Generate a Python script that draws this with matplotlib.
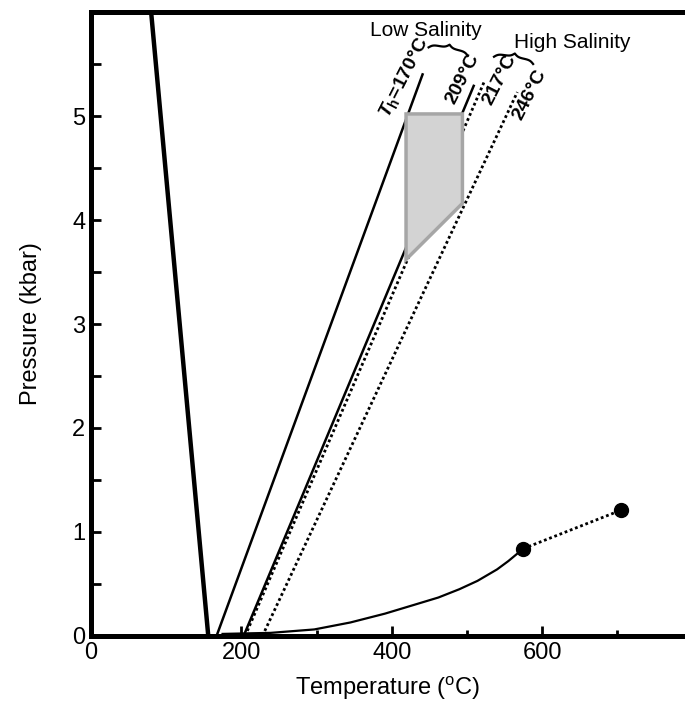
import numpy as np
import matplotlib
matplotlib.use('Agg')
import matplotlib.pyplot as plt
from matplotlib.ticker import FixedLocator, MultipleLocator

plt.rcParams['font.family'] = ['Liberation Sans', 'DejaVu Sans']
plt.rcParams['mathtext.fontset'] = 'custom'
plt.rcParams['mathtext.rm'] = 'Liberation Sans'
plt.rcParams['mathtext.it'] = 'Liberation Sans:italic:bold'
plt.rcParams['mathtext.bf'] = 'Liberation Sans:bold'

# steep boundary on the left (T, P)
boundT = [80, 156]
boundP = [6.0, 0.0]

# isochores: start at P=0, end near the top
iso170T = [167, 441]
iso170P = [0.0, 5.40]
iso209T = [203, 509]
iso209P = [0.0, 5.29]
iso217T = [205, 523]
iso217P = [0.0, 5.33]
iso246T = [228, 567]
iso246P = [0.0, 5.23]

# low-pressure curve and its dotted extension
curveT = [175, 239, 297, 345, 391, 430, 462, 490, 514, 540, 555, 575]
curveP = [0.02, 0.03, 0.063, 0.13, 0.215, 0.30, 0.37, 0.45, 0.53, 0.64, 0.72, 0.84]
extT = [575, 705]
extP = [0.84, 1.21]

# shaded P-T box
boxT = [419, 494, 494, 419]
boxP = [5.02, 5.02, 4.16, 3.62]


def brace(ax, p0, p1, h=7, **kw):
    # curly brace between two data points, drawn in pixel space
    a = ax.transData.transform(p0)
    b = ax.transData.transform(p1)
    d = b - a
    L = np.hypot(*d)
    u = d / L
    nrm = np.array([-u[1], u[0]])
    beta = 20.0 / L
    xh = np.linspace(0, L / 2, 60)
    yh = 1 / (1 + np.exp(-beta * (xh - xh[0]))) + 1 / (1 + np.exp(-beta * (xh - xh[-1])))
    xs = np.concatenate([xh, L - xh[::-1]])
    ys = np.concatenate([yh, yh[::-1]])
    ys = (ys - ys.min()) / (ys.max() - ys.min()) * h
    pts = a + np.outer(xs, u) + np.outer(ys, nrm)
    ax.plot(pts[:, 0], pts[:, 1], transform=None, clip_on=False, **kw)


fig = plt.figure(figsize=(6.85, 7.11), dpi=100)
ax = fig.add_axes([0.1328, 0.1055, 0.8672, 0.8776])
ax.set_xlim(0, 790)
ax.set_ylim(0, 6)

ax.plot(boundT, boundP, color='black', lw=3.2, solid_capstyle='butt')
ax.plot(iso170T, iso170P, color='black', lw=1.8)
ax.plot(iso209T, iso209P, color='black', lw=1.8)
ax.plot(iso217T, iso217P, color='black', lw=2.0, ls=(0, (1, 1)))
ax.plot(iso246T, iso246P, color='black', lw=2.0, ls=(0, (1, 1)))
ax.fill(boxT, boxP, facecolor='#d3d3d3', edgecolor='#a6a6a6', lw=2.5, zorder=3)

ax.plot(curveT, curveP, color='black', lw=1.6)
ax.plot(extT, extP, color='black', lw=2.0, ls=(0, (1, 1)))
ax.plot(extT, extP, 'o', color='black', ms=10, zorder=4)

tkw = dict(fontsize=14, fontweight='bold', rotation=63,
           ha='center', va='center', rotation_mode='anchor')
ax.text(417, 5.37, r'$T_{\mathbf{h}}$=170°C', **tkw)
ax.text(494, 5.36, '209°C', **tkw)
ax.text(543, 5.35, '217°C', **tkw)
ax.text(584, 5.20, '246°C', **tkw)

ax.text(371, 5.82, 'Low Salinity', fontsize=15, va='center')
ax.text(563, 5.71, 'High Salinity', fontsize=15, va='center')
brace(ax, (449, 5.66), (501, 5.58), color='black', lw=1.6)
brace(ax, (536, 5.57), (588, 5.50), color='black', lw=1.6)

ax.xaxis.set_major_locator(FixedLocator([0, 200, 400, 600]))
ax.xaxis.set_minor_locator(FixedLocator([300, 500, 700]))
ax.set_yticks([0, 1, 2, 3, 4, 5])
ax.yaxis.set_minor_locator(MultipleLocator(0.5))
ax.tick_params(which='both', direction='in', width=2, labelsize=17)
ax.tick_params(which='major', length=7, pad=4)
ax.tick_params(which='minor', length=4)
ax.tick_params(axis='y', which='minor', length=7)

for side in ['left', 'bottom', 'top']:
    ax.spines[side].set_linewidth(3.6)
ax.spines['right'].set_visible(False)

ax.set_xlabel(r'Temperature ($^{\mathrm{o}}$C)', fontsize=17, labelpad=8)
ax.set_ylabel('Pressure (kbar)', fontsize=17, labelpad=22)

fig.savefig('out.png', dpi=100)
